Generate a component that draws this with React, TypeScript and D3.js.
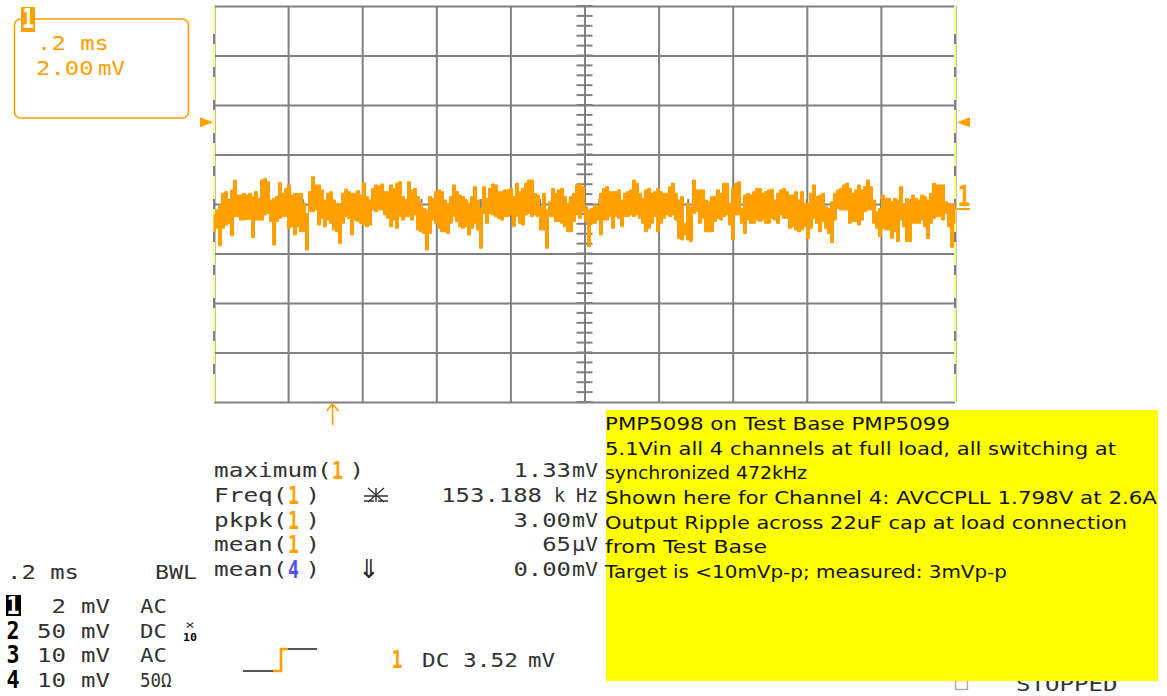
import React, { useEffect, useRef } from 'react';
import * as d3 from 'd3';

// envelope of channel 1 in mV, evenly spaced over the 2 ms sweep
const traceMax = [
  -.44,-.24,-.04,.43,.50,.16,.57,.97,.36,.36,
  .43,.36,.43,.30,.50,.23,.97,1.04,.90,.16,
  .23,.30,.86,.43,.63,.77,.36,.43,.43,.43,
  .03,-.38,.50,1.10,.77,.77,.57,.16,.43,.50,
  .16,.03,-.04,.43,.60,.50,.43,.43,.54,.36,
  .86,.30,.16,.63,.77,.73,.81,.50,.50,.77,
  .63,.84,.90,.30,.16,.90,.57,.63,.30,.03,
  -.18,-.24,.30,.23,.50,.57,.50,.16,.03,.30,
  .77,.50,.36,.30,.16,.03,.30,.70,.16,-.18,
  .70,.23,.63,.81,.77,.50,.50,.57,.57,.63,
  .30,.84,.50,.63,.84,.97,.97,.43,.36,-.11,
  .43,-.24,.09,.63,.43,.57,.63,.30,.03,.30,
  .43,.77,.84,.70,-.11,-.24,-.18,-.04,-.11,
  .43,.63,.70,.50,.50,.50,.57,.16,.43,.50,
  .57,.97,.84,.43,.23,.57,.63,.43,.50,.63,
  .50,.43,.43,.70,.84,.43,.16,.30,-.78,.03,
  -.11,.97,.57,.57,.57,.16,.09,.30,.30,.57,
  .43,.84,.84,.03,.63,.84,.90,-.18,.36,.43,
  .36,.50,.63,.63,.43,.50,.57,.60,.16,.43,
  .57,.63,.50,.36,.36,.50,.16,.50,.03,.03,
  .43,.77,.30,.36,.43,-.11,-.18,.09,.43,.57,
  .63,.77,.84,.63,.43,.57,.77,.57,.70,.97,
  .70,.16,-.31,-.18,.36,.23,.23,.09,.23,.16,
  .70,-.04,.23,.09,.36,.23,.16,.36,.30,.16,
  .43,.84,.77,.77,.77,.09,.03,-.04,.03,
];
const traceMin = [
  -1.12,-.98,-1.69,-.98,-.85,-.78,-1.29,-.51,-.51,-.65,
  -.65,-.62,-.62,-1.35,-.65,-.65,-.65,-.44,-.38,-.71,
  -1.66,-.71,-.58,-.51,-.51,-.98,-.92,-1.25,-.92,-1.12,
  -1.12,-1.86,-.31,-.31,-.24,-.85,-.58,-.92,-.65,-.78,
  -1.05,-1.12,-1.59,-.78,-.51,-.58,-1.25,-.65,-.71,-.78,
  -.85,-.92,-.85,-.24,-.31,-.24,-.24,-.44,-.58,-.92,
  -.65,-.98,-.51,-.65,-.51,-.51,-.65,-.44,-1.05,-1.12,
  -1.19,-1.86,-1.19,-.65,-.78,-.98,-1.12,-1.12,-1.19,-.78,
  -.51,-.71,-.92,-.98,-.92,-1.25,-.98,-.78,-1.05,-1.79,
  -.38,-.78,-.38,-.44,-.51,-.58,-.65,-.51,-.51,-.44,
  -.92,-.51,-.78,-.85,-.44,-.38,-.51,-.44,-.51,-1.05,
  -1.05,-1.79,-.51,-.51,-.71,-.71,-.78,-.92,-1.12,-1.12,
  -.71,-.44,-.58,-.31,-.71,-1.72,-.78,-.78,-.65,
  -1.25,-.65,-.65,-.51,-.98,-.51,-.58,-.92,-.51,-.51,
  -.44,-.51,-.44,-.58,-.78,-1.12,-.98,-.78,-.51,-1.12,
  -.78,-.58,-.44,-.51,-.44,-.65,-1.39,-1.45,-1.25,-1.45,
  -1.52,-.38,-.31,-.78,-.58,-1.12,-1.12,-1.12,-.71,-.58,
  -.65,-.51,-.44,-.85,-1.45,-.44,-.44,-.78,-1.19,-.65,
  -.78,-.78,-.65,-.71,-.65,-.78,-.78,-.58,-.65,-.78,
  -.44,-.58,-.58,-.98,-.92,-1.05,-1.12,-1.05,-.92,-1.39,
  -.98,-.58,-.78,-1.12,-.71,-.98,-1.19,-1.56,-.65,-.18,
  -.24,-.24,-.24,-.78,-.71,-.71,-.85,-.65,-.31,-.24,
  -.24,-.78,-.98,-1.32,-.98,-1.05,-1.05,-1.39,-1.12,-1.52,
  -.65,-.92,-1.52,-1.52,-.78,-.78,-.78,-.65,-.92,-1.39,
  -.78,-.58,-.51,-.51,-.65,-.38,-.92,-1.75,-.78,
];

const timeDivs = d3.range(0, 2.2, 0.2);
const voltDivs = d3.range(-8, 10, 2);
const minorTimeTicks = d3.range(0, 2.01, 0.04);
const minorVoltTicks = d3.range(-8, 8.01, 0.4);
const edgeVoltTicks = d3.range(-8, 8.01, 4 / 3).slice(1, -1);

const cursorTime = 0.32;
const triggerLevel = 3.3;

const measureNames = ['maximum(', 'Freq(', 'pkpk(', 'mean(', 'mean('];
const measureChannels = ['1', '1', '1', '1', '4'];
const measureValues = ['1.33', '153.188', '3.00', '65', '0.00'];
const measureUnits = ['mV', 'k Hz', 'mV', 'μV', 'mV'];

const channelIds = ['1', '2', '3', '4'];
const channelScales = ['2', '50', '10', '10'];
const channelCoupling = ['AC', 'DC', 'AC', '50Ω'];

const noteLines = [
  'PMP5098 on Test Base PMP5099',
  '5.1Vin all 4 channels at full load, all switching at',
  'synchronized 472kHz',
  'Shown here for Channel 4: AVCCPLL 1.798V at 2.6A',
  'Output Ripple across 22uF cap at load connection',
  'from Test Base',
  'Target is <10mVp-p; measured: 3mVp-p',
];
const noteWidths = [345, 511, 202, 552, 522, 162, 402];

const ORANGE = '#ffa000';
const GREY = '#808080';
const INK = '#333';
const MONO = '"DejaVu Sans Mono", monospace';

const App = () => {
  const ref = useRef<SVGSVGElement>(null);

  useEffect(() => {
    const svg = d3.select(ref.current);
    svg.selectAll('*').remove();

    const x = d3.scaleLinear().domain([0, 2]).range([214, 955]);
    const y = d3.scaleLinear().domain([-8, 8]).range([402, 6]);

    // the scope font is stretched wide, so every string gets a fixed advance per char
    const text = (g: any, px: number, py: number, s: string, adv = 14.5, fill = INK, anchor = 'start', size = 20) =>
      g.append('text')
        .attr('x', px).attr('y', py)
        .attr('font-family', MONO)
        .attr('font-size', size)
        .attr('textLength', s.length * adv)
        .attr('lengthAdjust', 'spacingAndGlyphs')
        .attr('text-anchor', anchor)
        .attr('fill', fill)
        .text(s);

    // channel digits are tall and narrow on the scope
    const digit = (g: any, px: number, py: number, s: string, fill: string, size = 24, adv = 11) =>
      g.append('text')
        .attr('x', px).attr('y', py)
        .attr('font-family', MONO)
        .attr('font-weight', 'bold')
        .attr('font-size', size)
        .attr('textLength', s.length * adv)
        .attr('lengthAdjust', 'spacingAndGlyphs')
        .attr('text-anchor', 'middle')
        .attr('fill', fill)
        .text(s);

    // grid, done with the axes
    const gridX = svg.append('g').attr('transform', 'translate(0,6)')
      .call(d3.axisBottom(x).tickValues(timeDivs).tickSize(396).tickFormat(() => ''));
    const gridY = svg.append('g').attr('transform', 'translate(214,0)')
      .call(d3.axisRight(y).tickValues(voltDivs).tickSize(741).tickFormat(() => ''));
    [gridX, gridY].forEach(g => {
      g.select('.domain').remove();
      g.selectAll('line').attr('stroke', GREY).attr('stroke-width', 2);
    });

    // centre graticule ticks
    svg.append('g').selectAll('line').data(minorVoltTicks).enter().append('line')
      .attr('x1', x(1) - 8).attr('x2', x(1) + 8)
      .attr('y1', d => y(d)).attr('y2', d => y(d))
      .attr('stroke', GREY).attr('stroke-width', 2);
    svg.append('g').selectAll('line').data(minorTimeTicks).enter().append('line')
      .attr('x1', d => x(d)).attr('x2', d => x(d))
      .attr('y1', y(0) - 5).attr('y2', y(0) + 5)
      .attr('stroke', GREY).attr('stroke-width', 2);

    // yellow edges with grey dashes
    [0, 2].forEach(t => {
      svg.append('line')
        .attr('x1', x(t)).attr('x2', x(t)).attr('y1', 6).attr('y2', 402)
        .attr('stroke', '#ffff80').attr('stroke-width', 2);
      svg.append('g').selectAll('line').data(edgeVoltTicks).enter().append('line')
        .attr('x1', x(t)).attr('x2', x(t))
        .attr('y1', d => y(d) - 5).attr('y2', d => y(d) + 5)
        .attr('stroke', GREY).attr('stroke-width', 2);
    });

    // trace
    const t = d3.scaleLinear().domain([0, traceMax.length - 1]).range([0, 2]);
    const area = d3.area<number>()
      .x((_, i) => x(t(i)))
      .y0((_, i) => y(traceMin[i]))
      .y1((_, i) => y(traceMax[i]))
      .curve(d3.curveStep);
    svg.append('path').attr('d', area(traceMax)).attr('fill', ORANGE).attr('stroke', ORANGE).attr('stroke-width', 1);

    // markers round the graticule
    const tri = d3.line();
    const ty = y(triggerLevel);
    svg.append('path').attr('d', tri([[200, ty - 5], [213, ty], [200, ty + 5]]) + 'Z').attr('fill', ORANGE);
    svg.append('path').attr('d', tri([[970, ty - 5], [957, ty], [970, ty + 5]]) + 'Z').attr('fill', ORANGE);
    digit(svg, 964, 206, '1', ORANGE, 28, 13);
    svg.append('line').attr('x1', 957).attr('x2', 970).attr('y1', 209).attr('y2', 209).attr('stroke', ORANGE).attr('stroke-width', 2);
    const ax = x(cursorTime);
    svg.append('path')
      .attr('d', tri([[ax, 425], [ax, 404]]) + tri([[ax - 6, 411], [ax, 404], [ax + 6, 411]]))
      .attr('fill', 'none').attr('stroke', ORANGE).attr('stroke-width', 1.6);

    // zoom box top left
    svg.append('rect').attr('x', 14.5).attr('y', 19).attr('width', 174).attr('height', 99).attr('rx', 6)
      .attr('fill', 'none').attr('stroke', ORANGE).attr('stroke-width', 1.6);
    svg.append('rect').attr('x', 21).attr('y', 7).attr('width', 14).attr('height', 25).attr('fill', ORANGE);
    digit(svg, 28, 28, '1', '#fff', 26, 12);
    text(svg, 37, 50, '.2 ms', 14.4, ORANGE);
    text(svg, 36, 75, '2.00', 14.4, ORANGE);
    text(svg, 98, 75, 'mV', 13.5, ORANGE);

    // measurements
    const rowY = d3.scalePoint<number>().domain(d3.range(5)).range([477, 576]);
    measureNames.forEach((name, i) => {
      const py = rowY(i) as number;
      text(svg, 214, py, name, 14.7);
      const cx = 214 + name.length * 14.7;
      digit(svg, cx + 6, py + 2, measureChannels[i], i === 4 ? '#5050ff' : ORANGE, 24);
      text(svg, cx + 18, py, ')', 14.7);
      const unit = measureUnits[i];
      text(svg, 598, py, unit, unit === 'k Hz' ? 11 : 13, INK, 'end');
      text(svg, unit === 'k Hz' ? 542 : 571, py, measureValues[i], 14.4, INK, 'end');
    });
    svg.append('text').attr('x', 369).attr('y', 578).attr('text-anchor', 'middle')
      .attr('font-family', '"DejaVu Sans"').attr('font-size', 26).attr('fill', '#222').text('⇓');
    // slope symbol next to Freq
    svg.append('path')
      .attr('d', 'M364 496H388M364 501H374M378 501H388M376 488V502M368 488L384 502M384 488L368 502')
      .attr('fill', 'none').attr('stroke', INK).attr('stroke-width', 1.4);

    // status block
    text(svg, 7, 579, '.2 ms', 14.4);
    text(svg, 155, 579, 'BWL', 14);
    const chanY = d3.scalePoint<number>().domain(d3.range(4)).range([613, 687]);
    channelIds.forEach((id, i) => {
      const py = chanY(i) as number;
      if (i === 0) svg.append('rect').attr('x', 6).attr('y', py - 18).attr('width', 15).attr('height', 21).attr('fill', '#000');
      digit(svg, 13, py + 1, id, i === 0 ? '#fff' : '#000', 25, 13);
      text(svg, 66, py, channelScales[i], 14.5, INK, 'end');
      text(svg, 81, py, 'mV', 14.5);
      text(svg, 140, py, channelCoupling[i], i === 3 ? 10.5 : 13.5);
    });
    text(svg, 190, 629, '×', 10, INK, 'middle', 12);
    digit(svg, 190, 641, '10', '#000', 11, 7);

    // trigger symbol
    svg.append('path').attr('d', tri([[243, 671], [273, 671]]) + tri([[288, 649], [317, 649]]))
      .attr('fill', 'none').attr('stroke', '#222').attr('stroke-width', 1.6);
    svg.append('path').attr('d', tri([[273, 671], [281, 671], [281, 649], [288, 649]]))
      .attr('fill', 'none').attr('stroke', ORANGE).attr('stroke-width', 2.6);
    digit(svg, 397, 668, '1', ORANGE, 24);
    text(svg, 422, 667, 'DC 3.52', 13.7);
    text(svg, 528, 667, 'mV', 13.5);

    // stopped status, partly hidden by the note
    svg.append('rect').attr('x', 955.5).attr('y', 680.5).attr('width', 12).attr('height', 9)
      .attr('fill', 'none').attr('stroke', '#aaa').attr('stroke-width', 1.4);
    text(svg, 1016, 691, 'STOPPED', 14.5);

    // yellow note
    svg.append('rect').attr('x', 606).attr('y', 410).attr('width', 552).attr('height', 271).attr('fill', '#ffff00');
    const noteY = d3.scalePoint<number>().domain(d3.range(noteLines.length)).range([430, 578]);
    noteLines.forEach((line, i) => {
      svg.append('text')
        .attr('x', 605).attr('y', noteY(i) as number)
        .attr('font-family', '"DejaVu Sans", Verdana, sans-serif')
        .attr('font-size', 18)
        .attr('textLength', noteWidths[i])
        .attr('lengthAdjust', 'spacingAndGlyphs')
        .attr('fill', '#111')
        .text(line);
    });
  }, []);

  return <svg ref={ref} width={1167} height={696} style={{ position: 'absolute', left: 0, top: 0, background: '#fff' }} />;
};

export default App;
